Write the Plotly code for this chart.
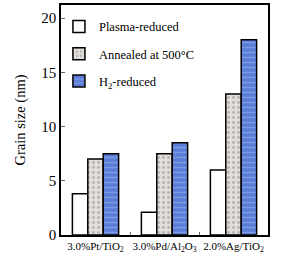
import plotly.graph_objects as go

categories = ["3.0%Pt/TiO<sub>2</sub>", "3.0%Pd/Al<sub>2</sub>O<sub>3</sub>", "2.0%Ag/TiO<sub>2</sub>"]
plasma = [3.8, 2.1, 6.0]
annealed = [7.0, 7.5, 13.0]
h2 = [7.5, 8.5, 18.0]
series_names = ["Plasma-reduced", "Annealed at 500°C", "H<sub>2</sub>-reduced"]

font = "Liberation Serif"

fig = go.Figure()
fig.add_trace(go.Bar(x=categories, y=plasma, name=series_names[0], legendgroup="a",
                     marker=dict(color="white", line=dict(color="black", width=1.5))))
fig.add_trace(go.Bar(x=categories, y=annealed, name=series_names[1], legendgroup="b",
                     marker=dict(color="#e2dedb", line=dict(color="black", width=1.5),
                                 pattern=dict(shape=".", fgcolor="#8a8580", size=5, solidity=0.25))))
fig.add_trace(go.Bar(x=categories, y=h2, name=series_names[2], legendgroup="c",
                     marker=dict(color="#5a7ed8", line=dict(color="black", width=1.5),
                                 pattern=dict(shape="-", fgcolor="#9fb6ee", size=5, solidity=0.3))))

fig.update_layout(
    width=293, height=260,
    margin=dict(l=61, r=25, t=5, b=25, pad=0),
    barmode="group", bargap=0.33, bargroupgap=0,
    plot_bgcolor="white", paper_bgcolor="white",
    font=dict(family=font, size=13, color="black"),
    legend=dict(x=-0.01, y=0.97, xanchor="left", yanchor="top",
                bgcolor="rgba(0,0,0,0)", font=dict(family=font, size=12.5),
                itemwidth=30, traceorder="grouped", tracegroupgap=8),
    showlegend=True,
)
fig.update_xaxes(showline=True, linecolor="black", linewidth=1.5, mirror=True,
                 ticks="inside", tickson="boundaries", ticklen=3, tickcolor="#666",
                 tickangle=0, automargin=False,
                 tickfont=dict(family=font, size=11))
fig.update_yaxes(range=[0, 21.2], tickvals=[0, 5, 10, 15, 20], showline=True,
                 linecolor="black", linewidth=1.5, mirror=True, ticks="inside",
                 ticklen=4, tickcolor="#666", showgrid=False, zeroline=False,
                 automargin=False,
                 tickfont=dict(family=font, size=15),
                 title=dict(text="Grain size (nm)", font=dict(family=font, size=14.5), standoff=12))

fig.write_html("out.html", config={"displayModeBar": False},
               post_script="document.body.style.margin='0';")
